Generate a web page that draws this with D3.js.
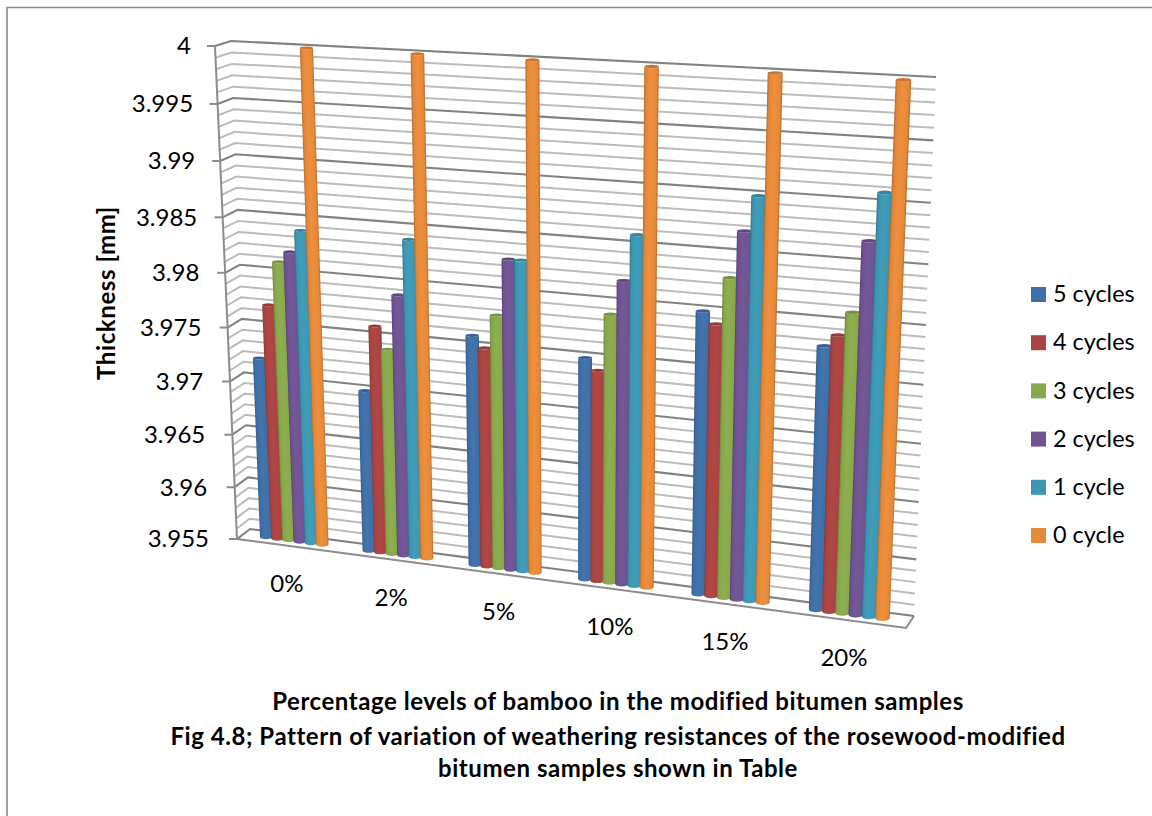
<!DOCTYPE html>
<html>
<head>
<meta charset="utf-8">
<script src="https://cdn.jsdelivr.net/npm/d3@7/dist/d3.min.js"></script>
<style>
html,body{margin:0;padding:0;background:#fff}
svg{display:block}
text{font-family:Lato,"Noto Sans",sans-serif;fill:#000}
</style>
</head>
<body>
<svg id="chart" width="1152" height="816"></svg>
<script>
// Weathering data: thickness in mm per bamboo level and number of cycles
const categories = ["0%", "2%", "5%", "10%", "15%", "20%"];
const seriesNames = ["5 cycles", "4 cycles", "3 cycles", "2 cycles", "1 cycle", "0 cycle"];
const cycles5 = [3.972, 3.970, 3.976, 3.975, 3.980, 3.978];
const cycles4 = [3.977, 3.976, 3.975, 3.974, 3.979, 3.979];
const cycles3 = [3.981, 3.974, 3.978, 3.979, 3.983, 3.981];
const cycles2 = [3.982, 3.979, 3.983, 3.982, 3.987, 3.987];
const cycles1 = [3.984, 3.984, 3.983, 3.986, 3.990, 3.991];
const cycles0 = [4.000, 4.000, 4.000, 4.000, 4.000, 4.000];
const seriesValues = [cycles5, cycles4, cycles3, cycles2, cycles1, cycles0];
const seriesColors = ["#3f6fa8", "#a94442", "#88a84c", "#6f5392", "#3d97b3", "#e5893a"];
const valueTicks = [4, 3.995, 3.99, 3.985, 3.98, 3.975, 3.97, 3.965, 3.96, 3.955];
const minorStep = 0.001;

const svg = d3.select("#chart");
const defs = svg.append("defs");

// Corners of the 3D box as drawn on screen: bottom-left, bottom-right, top-right, top-left
const backQuad = [[250, 529], [914, 616], [936, 77], [231, 41]];
const frontQuad = [[237, 539], [906, 628], [930, 86], [215, 46]];

// Solve the projective map from the unit square onto a quad
function homography(q) {
  const [[x0, y0], [x1, y1], [x2, y2], [x3, y3]] = q;
  const sx = x0 - x1 + x2 - x3, sy = y0 - y1 + y2 - y3;
  const dx1 = x1 - x2, dx2 = x3 - x2, dy1 = y1 - y2, dy2 = y3 - y2;
  const den = dx1 * dy2 - dx2 * dy1;
  const g = (sx * dy2 - dx2 * sy) / den, h = (dx1 * sy - sx * dy1) / den;
  const a = x1 - x0 + g * x1, b = x3 - x0 + h * x3, d = y1 - y0 + g * y1, e = y3 - y0 + h * y3;
  return (u, w) => {
    const z = g * u + h * w + 1;
    return [(a * u + b * w + x0) / z, (d * u + e * w + y0) / z];
  };
}
const planeAt = depth => homography(backQuad.map((p, i) => [
  p[0] + (frontQuad[i][0] - p[0]) * depth,
  p[1] + (frontQuad[i][1] - p[1]) * depth
]));
const backPlane = planeAt(0), frontPlane = planeAt(1), barPlane = planeAt(0.5);

const wScale = d3.scaleLinear().domain([3.955, 4]).range([0, 1]);
const catScale = d3.scaleBand().domain(categories).range([0, 1]).paddingInner(0.34).paddingOuter(0.17);
const serScale = d3.scaleBand().domain(seriesNames).range([0, catScale.bandwidth()]);
const line = d3.line();

// Gridlines on the back wall and the left side wall
const gridValues = d3.range(0, 46).map(i => 3.955 + i * minorStep);
const isMajor = v => Math.abs(((v - 3.955) / 0.005) - Math.round((v - 3.955) / 0.005)) < 1e-6;
const gridG = svg.append("g").attr("fill", "none");
gridValues.forEach(v => {
  const w = wScale(v), major = isMajor(v);
  const pts = [frontPlane(0, w), backPlane(0, w), backPlane(1, w)];
  gridG.append("path").attr("d", line(pts))
    .attr("stroke", major ? "#828282" : "#bcbcbc")
    .attr("stroke-width", major ? 2.1 : 2);
});

// Floor outline and the value axis with its ticks
const axisG = svg.append("g").attr("fill", "none").attr("stroke", "#8c8c8c").attr("stroke-width", 2);
axisG.append("path").attr("d", line([frontPlane(0, 1), frontPlane(0, 0), frontPlane(1, 0), backPlane(1, 0)]));
valueTicks.forEach(v => {
  const p = frontPlane(0, wScale(v));
  axisG.append("line").attr("x1", p[0] - 8).attr("x2", p[0]).attr("y1", p[1]).attr("y2", p[1]);
});
svg.append("g").selectAll("text").data(valueTicks).join("text")
  .attr("x", v => frontPlane(0, wScale(v))[0] - 24 - 4 * (1 - wScale(v)))
  .attr("y", v => frontPlane(0, wScale(v))[1])
  .attr("dy", "0.35em").attr("text-anchor", "end").attr("font-size", 24)
  .text(v => d3.format("")(v));

// Cylinder columns, drawn series by series in each group
const barsG = svg.append("g");
let gradId = 0;
categories.forEach((cat, ci) => {
  seriesNames.forEach((name, si) => {
    const value = seriesValues[si][ci], col = seriesColors[si];
    const u0 = catScale(cat) + serScale(name), u1 = u0 + serScale.bandwidth();
    const w = wScale(value);
    const bl = barPlane(u0, 0), br = barPlane(u1, 0), tl = barPlane(u0, w), tr = barPlane(u1, w);
    const rxT = (tr[0] - tl[0]) / 2 + 0.6, rxB = (br[0] - bl[0]) / 2 + 0.6;
    const ryT = rxT * 0.24, ryB = rxB * 0.36;
    const tm = [(tl[0] + tr[0]) / 2, (tl[1] + tr[1]) / 2];
    const bm = [(bl[0] + br[0]) / 2, (bl[1] + br[1]) / 2];
    const tlx = tm[0] - rxT, trx = tm[0] + rxT, blx = bm[0] - rxB, brx = bm[0] + rxB;
    // Shading runs across the column's width, perpendicular to its lean
    const ax = tm[0] - bm[0], ay = tm[1] - bm[1], len = Math.hypot(ax, ay);
    const nx = -ay / len, ny = ax / len;
    const flip = nx < 0 ? -1 : 1;
    const id = "g" + (gradId++);
    const grad = defs.append("linearGradient").attr("id", id).attr("gradientUnits", "userSpaceOnUse")
      .attr("x1", bm[0] - flip * nx * rxB).attr("y1", bm[1] - flip * ny * rxB)
      .attr("x2", bm[0] + flip * nx * rxB).attr("y2", bm[1] + flip * ny * rxB);
    const base = d3.color(col);
    [[0, base.darker(0.55)], [0.12, base.darker(0.05)], [0.45, base.brighter(0.12)], [0.88, base], [1, base.darker(0.55)]]
      .forEach(([o, c]) => grad.append("stop").attr("offset", o).attr("stop-color", c.formatHex()));
    barsG.append("path")
      .attr("d", `M${tlx},${tm[1]} L${blx},${bm[1]} A${rxB},${ryB} 0 0 0 ${brx},${bm[1]} L${trx},${tm[1]} A${rxT},${ryT} 0 0 1 ${tlx},${tm[1]}Z`)
      .attr("fill", `url(#${id})`);
    barsG.append("ellipse").attr("cx", tm[0]).attr("cy", tm[1]).attr("rx", rxT).attr("ry", ryT)
      .attr("fill", base.darker(0.4).formatHex());
  });
});

// Category labels under the floor
svg.append("g").selectAll("text").data(categories).join("text")
  .attr("x", c => frontPlane(catScale(c) + catScale.bandwidth() / 2, 0)[0] - 1)
  .attr("y", c => frontPlane(catScale(c) + catScale.bandwidth() / 2, 0)[1] + 38)
  .attr("dy", "0.35em").attr("text-anchor", "middle").attr("font-size", 24)
  .text(c => c);

// Axis title
svg.append("text").attr("transform", "translate(107,293) rotate(-90)")
  .attr("text-anchor", "middle").attr("dy", "0.35em").attr("font-size", 24).attr("font-weight", 700)
  .attr("letter-spacing", 0.6)
  .text("Thickness [mm]");

// Caption lines under the chart
const captionLines = [
  "Percentage levels of bamboo in the modified bitumen samples",
  "Fig 4.8; Pattern of variation of weathering resistances of the rosewood-modified",
  "bitumen samples shown in Table"
];
const captionX = [618, 618, 618], captionY = [701.5, 736.5, 769];
svg.append("g").selectAll("text").data(captionLines).join("text")
  .attr("x", (d, i) => captionX[i]).attr("y", (d, i) => captionY[i])
  .attr("dy", "0.35em").attr("text-anchor", "middle").attr("font-size", 24).attr("font-weight", 700)
  .attr("letter-spacing", 0.55)
  .text(d => d);

// Legend
const legendG = svg.append("g");
seriesNames.forEach((name, i) => {
  const cy = 294.5 + i * 48.2;
  legendG.append("rect").attr("x", 1031).attr("y", cy - 7.5).attr("width", 15).attr("height", 15).attr("fill", seriesColors[i]);
  legendG.append("text").attr("x", 1053).attr("y", cy - 0.5).attr("dy", "0.35em").attr("font-size", 23.4).text(name);
});

// Page frame along the left and top
svg.append("path").attr("d", "M7,816V7.5H1152").attr("fill", "none").attr("stroke", "#8a8a8a").attr("stroke-width", 1.6);
</script>
</body>
</html>
